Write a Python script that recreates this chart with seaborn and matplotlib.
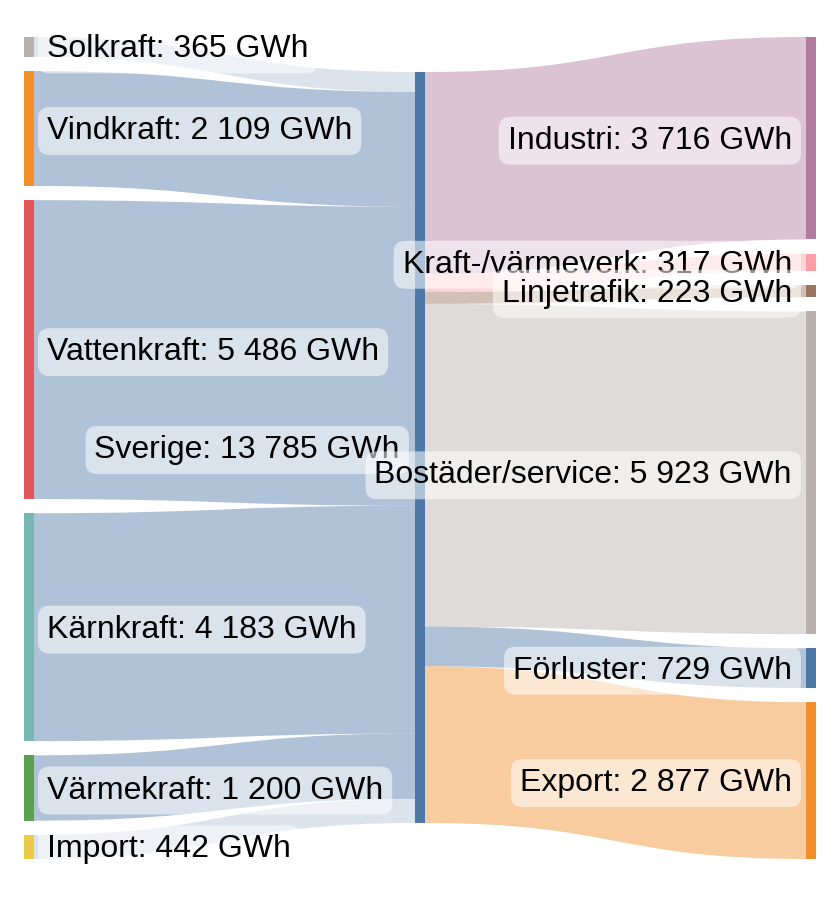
import matplotlib
matplotlib.use("Agg")
import matplotlib.pyplot as plt
from matplotlib.path import Path
from matplotlib.patches import PathPatch, Rectangle
from matplotlib.colors import to_rgba
import seaborn as sns

# Sources -> Sverige -> uses (GWh)
sources = ["Solkraft", "Vindkraft", "Vattenkraft", "Kärnkraft", "Värmekraft", "Import"]
source_gwh = [365, 2109, 5486, 4183, 1200, 442]
source_colors = ["#bab0ac", "#f28e2b", "#e15759", "#76b7b2", "#59a14f", "#edc948"]

hub = "Sverige"
hub_color = "#4e79a7"

targets = ["Industri", "Kraft-/värmeverk", "Linjetrafik", "Bostäder/service", "Förluster", "Export"]
target_gwh = [3716, 317, 223, 5923, 729, 2877]
target_colors = ["#b07aa1", "#ff9da7", "#9c755f", "#bab0ac", "#4e79a7", "#f28e2b"]

# link opacity (solar and import links are paler)
inflow_alpha = [0.2, 0.45, 0.45, 0.45, 0.45, 0.2]
outflow_alpha = [0.45] * len(targets)

sns.set_theme(style="white")
plt.rcParams["font.family"] = ["Liberation Sans", "DejaVu Sans"]

W, H = 840, 900
col_x = [24, 415, 806]
node_w = 10
top, bottom, gap = 37, 859, 14.2
total = sum(source_gwh)
scale = (bottom - top - gap * (len(sources) - 1)) / total
text_dy = 2.5


def fmt(v):
    return f"{v:,}".replace(",", " ") + " GWh"


def stack(values, start, pad):
    out, y = [], start
    for v in values:
        h = v * scale
        out.append((y, y + h))
        y += h + pad
    return out


def band(ax, x0, x1, a, b, color, alpha):
    xm = (x0 + x1) / 2
    verts = [(x0, a[0]), (xm, a[0]), (xm, b[0]), (x1, b[0]),
             (x1, b[1]),
             (xm, b[1]), (xm, a[1]), (x0, a[1]),
             (x0, a[0])]
    codes = [Path.MOVETO, Path.CURVE4, Path.CURVE4, Path.CURVE4,
             Path.LINETO,
             Path.CURVE4, Path.CURVE4, Path.CURVE4,
             Path.CLOSEPOLY]
    ax.add_patch(PathPatch(Path(verts, codes), fc=to_rgba(color, alpha), ec="none", zorder=1))


src_pos = stack(source_gwh, top, gap)
tgt_pos = stack(target_gwh, top, gap)
hub_h = total * scale
hub_top = (top + bottom) / 2 - hub_h / 2 - 0.5
hub_in = stack(source_gwh, hub_top, 0)
hub_out = stack(target_gwh, hub_top, 0)

fig = plt.figure(figsize=(W / 100, H / 100), dpi=100)
ax = fig.add_axes([0, 0, 1, 1])
ax.set_xlim(0, W)
ax.set_ylim(H, 0)
ax.axis("off")

for i in range(len(sources)):
    band(ax, col_x[0] + node_w, col_x[1], src_pos[i], hub_in[i], hub_color, inflow_alpha[i])
for i in range(len(targets)):
    band(ax, col_x[1] + node_w, col_x[2], hub_out[i], tgt_pos[i], target_colors[i], outflow_alpha[i])

for (y0, y1), c in zip(src_pos, source_colors):
    ax.add_patch(Rectangle((col_x[0], y0), node_w, y1 - y0, fc=c, ec="none", zorder=2))
ax.add_patch(Rectangle((col_x[1], hub_top), node_w, hub_h, fc=hub_color, ec="none", zorder=2))
for (y0, y1), c in zip(tgt_pos, target_colors):
    ax.add_patch(Rectangle((col_x[2], y0), node_w, y1 - y0, fc=c, ec="none", zorder=2))

box = dict(boxstyle="round,pad=0.28,rounding_size=0.35", fc=(1, 1, 1, 0.55), ec="none")
fs = 23
for name, v, (y0, y1) in zip(sources, source_gwh, src_pos):
    ax.text(col_x[0] + node_w + 13, (y0 + y1) / 2 + text_dy, f"{name}: {fmt(v)}", ha="left", va="center",
            fontsize=fs, color="black", bbox=box, zorder=5)
ax.text(col_x[1] - 15, hub_top + hub_h / 2 + text_dy, f"{hub}: {fmt(total)}", ha="right", va="center",
        fontsize=fs, color="black", bbox=box, zorder=5)
for name, v, (y0, y1) in zip(targets, target_gwh, tgt_pos):
    ax.text(col_x[2] - 14, (y0 + y1) / 2 + text_dy, f"{name}: {fmt(v)}", ha="right", va="center",
            fontsize=fs, color="black", bbox=box, zorder=5)

fig.savefig("out.png", dpi=100)
